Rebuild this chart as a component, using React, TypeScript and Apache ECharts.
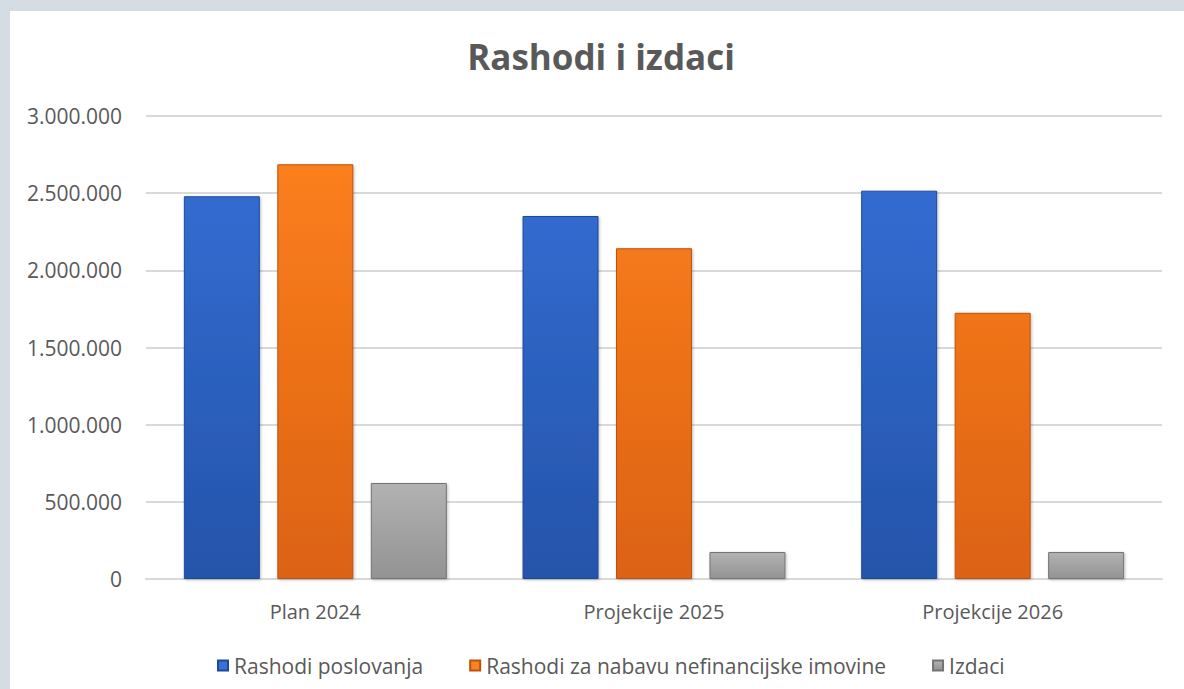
import React, { useEffect, useRef } from "react";
import * as echarts from "echarts";

const categories = ["Plan 2024", "Projekcije 2025", "Projekcije 2026"];
const seriesNames = [
  "Rashodi poslovanja",
  "Rashodi za nabavu nefinancijske imovine",
  "Izdaci",
];
const rashodiPoslovanja = [2480000, 2352000, 2516000];
const rashodiNefinancijske = [2687000, 2143000, 1725000];
const izdaci = [622000, 175000, 175000];
const titleText = "Rashodi i izdaci";

const FONT = "'Open Sans', 'Noto Sans', sans-serif";
const TXT = "#595959";

function grad(top: string, bottom: string, global: boolean) {
  return global
    ? new echarts.graphic.LinearGradient(0, 116, 0, 579, [
        { offset: 0, color: top },
        { offset: 1, color: bottom },
      ], true)
    : new echarts.graphic.LinearGradient(0, 0, 0, 1, [
        { offset: 0, color: top },
        { offset: 1, color: bottom },
      ]);
}

export default function App() {
  const ref = useRef<HTMLDivElement>(null);
  useEffect(() => {
    if (!ref.current) return;
    const chart = echarts.init(ref.current, undefined, { renderer: "svg" });
    const mk = (name: string, data: number[], top: string, bottom: string, border: string, global = true) => ({
      name,
      type: "bar",
      data,
      barWidth: 76,
      barGap: "23%",
      itemStyle: {
        color: grad(top, bottom, global),
        borderColor: border,
        borderWidth: 1,
        shadowColor: "rgba(0,0,0,0.25)",
        shadowBlur: 3,
        shadowOffsetX: 1,
        shadowOffsetY: 1,
      },
    });
    chart.setOption({
      animation: false,
      backgroundColor: "#d6dce4",
      graphic: [
        {
          type: "rect",
          z: -10,
          silent: true,
          shape: { x: 10, y: 11, width: 1174, height: 678 },
          style: { fill: "#ffffff" },
        },
      ],
      title: {
        text: titleText,
        left: 596,
        textAlign: "center",
        top: 34,
        textStyle: { fontFamily: FONT, fontSize: 35, fontWeight: "bold", color: TXT },
      },
      grid: { left: 146, right: 22, top: 116, bottom: 110, containLabel: false },
      legend: {
        data: seriesNames,
        top: 650,
        left: 212,
        icon: "rect",
        itemWidth: 10,
        itemHeight: 10,
        itemGap: 46,
        textStyle: { fontFamily: FONT, fontSize: 21, color: TXT, padding: [0, 0, 0, 1] },
      },
      xAxis: {
        type: "category",
        data: categories,
        axisLine: { show: true, lineStyle: { color: "#d9d9d9", width: 2 } },
        axisTick: { show: false },
        axisLabel: { fontFamily: FONT, fontSize: 20, color: TXT, margin: 22 },
      },
      yAxis: {
        type: "value",
        min: 0,
        max: 3000000,
        interval: 500000,
        axisLine: { show: false },
        axisTick: { show: false },
        splitLine: { lineStyle: { color: "#d9d9d9", width: 2 } },
        axisLabel: {
          fontFamily: FONT,
          fontSize: 21,
          color: TXT,
          margin: 24,
          formatter: (v: number) => v.toString().replace(/\B(?=(\d{3})+(?!\d))/g, "."),
        },
      },
      series: [
        mk(seriesNames[0], rashodiPoslovanja, "#3670d8", "#2454aa", "#1f4a98"),
        mk(seriesNames[1], rashodiNefinancijske, "#ff821e", "#dc6212", "#b9520c"),
        mk(seriesNames[2], izdaci, "#b2b2b2", "#939393", "#747474", false),
      ],
    });
    return () => chart.dispose();
  }, []);
  return (
    <div style={{ position: "fixed", left: 0, top: 0, width: 1184, height: 689 }}>
      <div ref={ref} style={{ width: 1184, height: 689 }} />
    </div>
  );
}
